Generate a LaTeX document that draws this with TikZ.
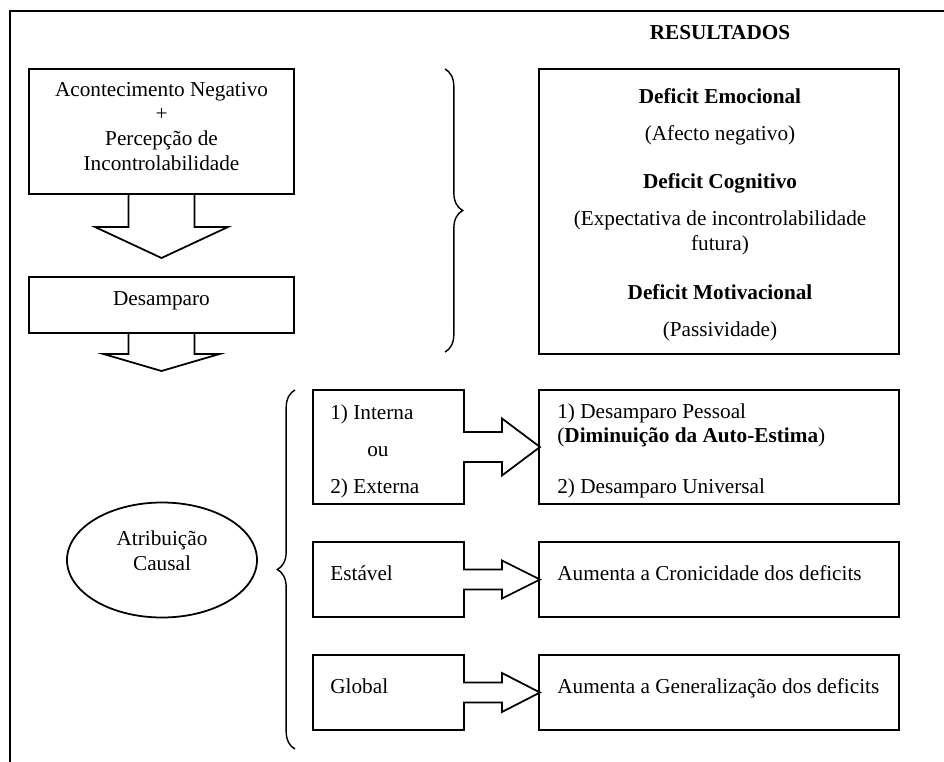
\documentclass[tikz,border=0pt]{standalone}
\usepackage{fontspec}
\setmainfont{Liberation Serif}
\usetikzlibrary{shapes.geometric,decorations.pathreplacing}

\newdimen\px
\px=0.565pt

\tikzset{
  boxnode/.style={draw, line width=1pt, inner sep=0pt, outer sep=0pt},
  openarrow/.style={draw, line width=1pt, line join=miter},
  blockarrow/.style={openarrow, fill=white},
  bigbrace/.style={decorate, decoration={brace, amplitude=10pt, aspect=0.5}, line width=0.8pt},
  txt/.style={inner sep=0pt, anchor=base},
  ltxt/.style={inner sep=0pt, anchor=base west},
}

% block arrow out of a box to the right: node, half shaft, half head
\newcommand{\rightblock}[3]{%
  \filldraw[blockarrow] (#1.east) ++(-1,-#2) -- ++(39,0) -- ++(0,#2-#3)
    -- ++(38,#3) -- ++(-38,#3) -- ++(0,#2-#3) -- ++(-39,0);
}

\begin{document}
\begin{tikzpicture}[x=0.565pt, y=-0.565pt, every node/.style={font=\fontsize{12}{14.1}\selectfont}]
    \useasboundingbox (0,0) rectangle (944,762);
    \draw[line width=1.1pt] (10,762) -- (10,11) -- (944,11);

    \node[txt] (resultados) at (720,40) {\textbf{RESULTADOS}};

    % upper part
    \node[boxnode, minimum width=265\px, minimum height=125\px] (acont) at (161.5,131.5) {};
    \foreach \ln/\yy [count=\i] in {Acontecimento Negativo/96.5, +/121, Percepção de/145.5, Incontrolabilidade/170.5}
        \node[txt] (acont\i) at (161.5,\yy) {\ln};
    \node[boxnode, minimum width=265\px, minimum height=56\px] (desamp) at (161.5,305) {};
    \node[txt] (desamptxt) at (161.5,306) {Desamparo};

    \draw[openarrow] (acont.south) ++(-33,0) -- ++(0,33) -- ++(-33.5,0) -- ++(66.5,31)
        -- ++(66.5,-31) -- ++(-33.5,0) -- ++(0,-33);
    \draw[openarrow] (desamp.south) ++(-33,0) -- ++(0,21) -- ++(-25,0) -- ++(58,17)
        -- ++(58,-17) -- ++(-25,0) -- ++(0,-21);

    \draw[bigbrace] (445,69) -- (445,352);

    \node[boxnode, minimum width=360\px, minimum height=285\px] (result) at (719,211.5) {};
    \node[txt] (res1) at (720,103.5) {\textbf{Deficit Emocional}};
    \node[txt] (res2) at (720,140.5) {(Afecto negativo)};
    \node[txt] (res3) at (720,188.5) {\textbf{Deficit Cognitivo}};
    \node[txt] (res4) at (720,226) {(Expectativa de incontrolabilidade};
    \node[txt] (res5) at (720,251) {futura)};
    \node[txt] (res6) at (720,299.5) {\textbf{Deficit Motivacional}};
    \node[txt] (res7) at (720,337) {(Passividade)};

    % lower part
    \node[draw, ellipse, line width=1pt, minimum width=190\px, minimum height=115\px, inner sep=0pt] (atrib) at (162,560) {};
    \node[txt] (atrib1) at (162,545.5) {Atribuição};
    \node[txt] (atrib2) at (162,570.5) {Causal};

    \draw[bigbrace] (295,749) -- (295,390);

    \node[boxnode, minimum width=151\px, minimum height=114\px] (interna) at (388.5,447) {};
    \node[boxnode, minimum width=151\px, minimum height=75\px] (estavel) at (388.5,579.5) {};
    \node[boxnode, minimum width=151\px, minimum height=75\px] (global) at (388.5,692.5) {};
    \node[boxnode, minimum width=360\px, minimum height=114\px] (pessoal) at (719,447) {};
    \node[boxnode, minimum width=360\px, minimum height=75\px] (cronic) at (719,579.5) {};
    \node[boxnode, minimum width=360\px, minimum height=75\px] (geral) at (719,692.5) {};

    \node[ltxt] (int1) at (330,419) {1) Interna};
    \node[ltxt] (int2) at (367,456) {ou};
    \node[ltxt] (int3) at (330,493) {2) Externa};
    \node[ltxt] (esttxt) at (330,580) {Estável};
    \node[ltxt] (globtxt) at (330,693) {Global};

    \node[ltxt] (pes1) at (557,418.5) {1) Desamparo Pessoal};
    \node[ltxt] (pes2) at (557,443) {(\textbf{Diminuição da Auto-Estima})};
    \node[ltxt] (pes3) at (557,493) {2) Desamparo Universal};
    \node[ltxt] (crontxt) at (557,580) {Aumenta a Cronicidade dos deficits};
    \node[ltxt] (geraltxt) at (557,693) {Aumenta a Generalização dos deficits};

    \rightblock{interna}{15}{28.5}
    \rightblock{estavel}{10}{19}
    \rightblock{global}{10}{19.5}
\end{tikzpicture}
\end{document}
